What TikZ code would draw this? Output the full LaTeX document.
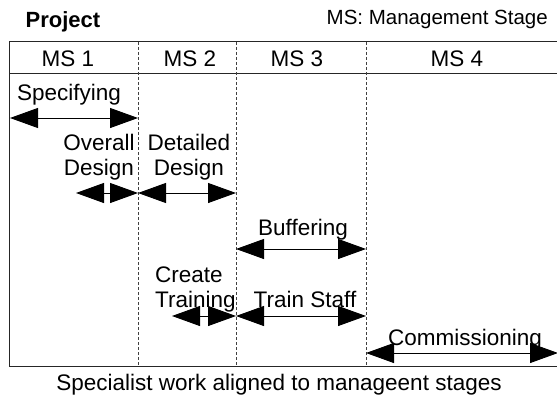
\documentclass[tikz,border=0pt]{standalone}
\usepackage{fontspec}
\setmainfont{Liberation Sans}
\usetikzlibrary{arrows.meta}
\begin{document}
\begin{tikzpicture}[x=1pt,y=-1pt,
  lbl/.style={inner sep=0pt,font=\fontsize{22.5}{25}\selectfont},
  frameline/.style={line width=1pt,black!85},
  divider/.style={line width=0.8pt,black!75,dash pattern=on 3pt off 2pt},
  span/.style={line width=1pt,black,{Triangle[length=28pt,width=20pt]}-{Triangle[length=28pt,width=20pt]}}]
\useasboundingbox (0,0) rectangle (557,396);
% frame
\coordinate (tl) at (9,42);
\coordinate (tr) at (560,42);
\coordinate (hl) at (9,74);
\coordinate (hr) at (560,74);
\coordinate (bl) at (9,366);
\coordinate (br) at (560,366);
\draw[frameline] (tr) -- (tl) -- (bl) -- (br);
\draw[frameline] (hl) -- (hr);
% dividers
\foreach \x/\n in {138/a,236/b,366/c}{
  \coordinate (d\n t) at (\x,42);
  \coordinate (d\n b) at (\x,366);
  \draw[divider] (d\n t) -- (d\n b);
}
% titles
\node[lbl,anchor=base,font=\bfseries\fontsize{22}{25}\selectfont] (project) at (63,28) {Project};
\node[lbl,anchor=base east,font=\fontsize{20.5}{24}\selectfont] (legend) at (548,25) {MS: Management Stage};
\node[lbl,anchor=base] (ms1) at (68,66.5) {MS 1};
\node[lbl,anchor=base] (ms2) at (190,66.5) {MS 2};
\node[lbl,anchor=base] (ms3) at (297,66.5) {MS 3};
\node[lbl,anchor=base] (ms4) at (457,66.5) {MS 4};
% activities
\node[lbl,anchor=base] (spec) at (69,100) {Specifying};
\coordinate (specL) at (10,118); \coordinate (specR) at (138,118);
\draw[span] (specL) -- (specR);

\node[lbl,align=center,anchor=base] (overall) at (99,175) {Overall\\Design};
\coordinate (ovL) at (76,193); \coordinate (ovR) at (138,193);
\draw[span] (ovL) -- (ovR);

\node[lbl,align=center,anchor=base] (detailed) at (189,175) {Detailed\\Design};
\coordinate (deL) at (138,193); \coordinate (deR) at (236,193);
\draw[span] (deL) -- (deR);

\node[lbl,anchor=base] (buff) at (303,235) {Buffering};
\coordinate (buL) at (236,249); \coordinate (buR) at (366,249);
\draw[span] (buL) -- (buR);

\node[lbl,align=left,anchor=base west] (create) at (155,307) {Create\\Training};
\coordinate (crL) at (172,316); \coordinate (crR) at (236,316);
\draw[span] (crL) -- (crR);

\node[lbl,anchor=base] (train) at (305,307) {Train Staff};
\coordinate (trL) at (236,316); \coordinate (trR) at (366,316);
\draw[span] (trL) -- (trR);

\node[lbl,anchor=base] (comm) at (465,345) {Commissioning};
\coordinate (coL) at (366,353); \coordinate (coR) at (558,353);
\draw[span] (coL) -- (coR);

\node[lbl,anchor=base] (caption) at (279,390) {Specialist work aligned to manageent stages};
\end{tikzpicture}
\end{document}
